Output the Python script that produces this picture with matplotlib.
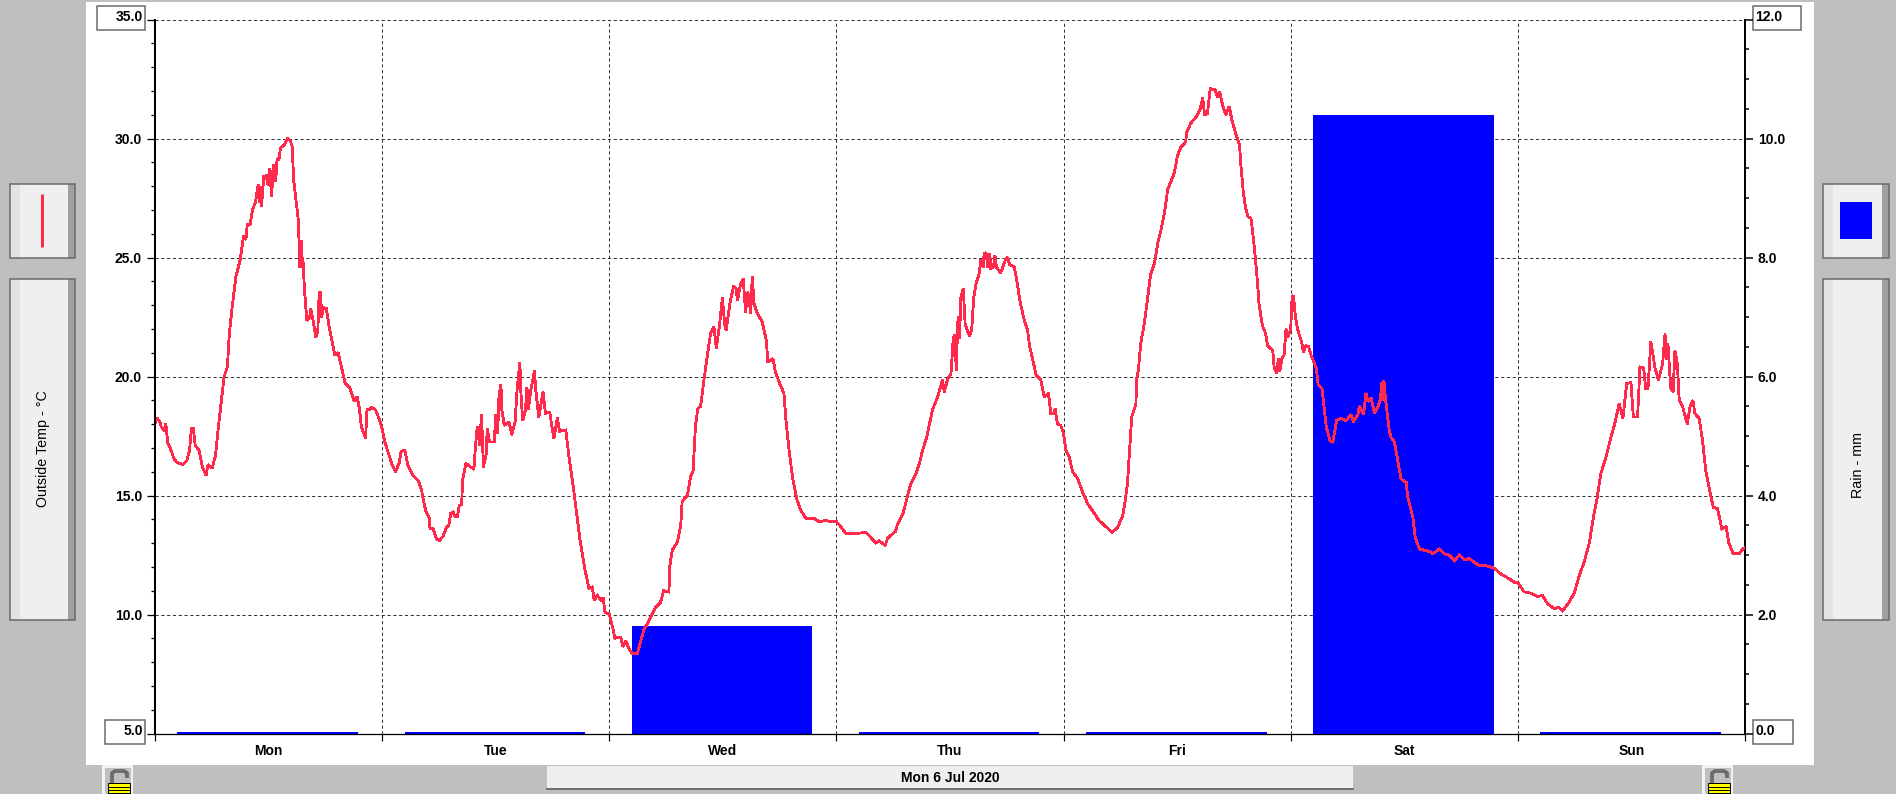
import numpy as np
import matplotlib
matplotlib.use('Agg')
import matplotlib.pyplot as plt
from matplotlib.patches import Rectangle

plt.rcParams['font.family'] = ['Liberation Sans', 'DejaVu Sans']

# Daily values, hours since midnight and degrees C
mon_hours = [0.0, 0.2, 0.5, 0.65, 1.0, 1.15, 1.35, 1.7, 2.0, 2.3, 2.95, 3.35, 3.65, 3.85, 4.05, 4.25, 4.65, 5.0, 5.4, 5.6,
             6.05, 6.4, 6.65, 6.95, 7.3, 7.65, 7.85, 8.15, 8.55, 9.0, 9.35, 9.6, 9.75, 10.05, 10.3, 10.6, 10.9, 11.0, 11.15, 11.25,
             11.5, 11.8, 11.85, 12.15, 12.3, 12.55, 12.75, 12.9, 13.1, 13.25, 13.7, 14.0, 14.3, 14.5, 14.65, 14.9, 15.15, 15.3, 15.45, 15.6,
             15.65, 15.8, 16.05, 16.35, 16.45, 16.7, 17.0, 17.2, 17.35, 17.5, 17.6, 17.8, 18.1, 18.4, 18.75, 19.0, 19.35, 19.7, 20.1, 20.55,
             21.05, 21.35, 21.6, 21.8, 22.25, 22.4, 22.65, 22.85, 23.3, 23.7]
mon_temp = [18.0, 18.26, 18.1, 17.9, 17.7, 18.0, 17.2, 16.9, 16.55, 16.4, 16.3, 16.45, 16.9, 17.8, 17.8, 17.1, 16.9, 16.2, 15.85, 16.3,
            16.15, 16.7, 17.7, 18.75, 20.0, 20.4, 21.8, 22.9, 24.2, 24.9, 25.9, 25.75, 26.4, 26.4, 27.0, 27.3, 28.05, 27.3, 28.0, 27.15,
            28.4, 28.45, 28.05, 28.75, 27.55, 28.9, 28.2, 29.15, 29.1, 29.6, 29.75, 30.0, 29.9, 29.65, 28.25, 27.4, 26.55, 24.6, 25.7, 24.6,
            24.8, 23.6, 22.35, 22.5, 22.85, 22.35, 21.65, 21.9, 23.55, 23.55, 22.5, 22.9, 22.85, 22.1, 21.4, 20.9, 21.0, 20.4, 19.7, 19.55,
            18.95, 19.15, 18.65, 17.9, 17.4, 18.6, 18.6, 18.7, 18.6, 18.2]

tue_hours = [0.0, 0.25, 0.6, 1.05, 1.4, 1.8, 2.0, 2.4, 2.7, 3.25, 3.85, 4.18, 4.35, 4.65, 5.0, 5.05, 5.4, 5.7, 6.05, 6.45,
             6.8, 7.05, 7.25, 7.5, 7.7, 7.95, 8.15, 8.4, 8.5, 8.85, 9.7, 9.85, 10.05, 10.3, 10.5, 10.7, 11.0, 11.1, 11.35, 11.85,
             12.0, 12.2, 12.35, 12.55, 12.65, 12.9, 13.4, 13.7, 14.05, 14.25, 14.55, 14.65, 14.85, 15.15, 15.3, 15.45, 15.7, 16.1, 16.2, 16.55,
             17.0, 17.25, 17.7, 18.15, 18.5, 18.75, 19.4, 19.75, 20.15, 20.5, 20.95, 21.45, 21.85, 22.2, 22.4, 22.75, 23.1, 23.35, 23.55]
tue_temp = [17.8, 17.3, 16.85, 16.3, 16.0, 16.35, 16.85, 16.9, 16.3, 15.85, 15.6, 15.2, 14.8, 14.3, 14.05, 13.6, 13.6, 13.2, 13.1, 13.3,
            13.65, 13.75, 14.25, 14.3, 14.1, 14.1, 14.6, 14.6, 15.65, 16.35, 16.1, 17.0, 17.9, 17.1, 18.4, 16.2, 16.75, 17.8, 17.25, 17.25,
            18.4, 17.6, 19.2, 19.65, 18.6, 17.95, 18.1, 17.55, 18.1, 19.4, 20.6, 19.4, 18.15, 18.6, 19.55, 18.6, 19.4, 20.25, 19.55, 18.3,
            19.35, 18.45, 18.5, 17.4, 18.25, 17.7, 17.75, 16.6, 15.5, 14.4, 13.0, 11.85, 11.1, 11.15, 10.6, 10.8, 10.6, 10.7, 10.1]

wed_hours = [0.0, 0.3, 0.6, 1.2, 1.45, 1.75, 2.1, 2.45, 2.95, 3.3, 3.65, 4.2, 4.9, 5.4, 5.75, 6.3, 6.4, 6.65, 7.2, 7.55,
             7.7, 8.25, 8.6, 8.85, 9.1, 9.35, 9.65, 10.0, 10.35, 10.7, 11.05, 11.3, 11.6, 11.95, 12.2, 12.35, 12.65, 12.8, 13.15, 13.4,
             13.55, 13.85, 14.15, 14.4, 14.65, 14.95, 15.1, 15.3, 15.65, 16.15, 16.6, 16.75, 17.3, 17.55, 18.0, 18.45, 18.7, 19.0, 19.35, 19.8,
             20.2, 20.75, 21.6, 22.15, 22.85, 23.55]
wed_temp = [10.0, 9.55, 9.0, 9.05, 8.65, 8.9, 8.55, 8.35, 8.35, 8.85, 9.35, 9.75, 10.3, 10.5, 11.0, 10.95, 12.05, 12.7, 13.05, 13.75,
            14.75, 15.0, 15.8, 16.0, 17.9, 18.65, 18.75, 19.85, 20.85, 21.8, 22.1, 21.2, 22.0, 23.3, 22.15, 21.95, 22.8, 23.2, 23.8, 23.7,
            23.2, 23.85, 24.1, 22.7, 23.55, 22.65, 24.2, 23.05, 22.65, 22.3, 21.5, 20.6, 20.75, 20.2, 19.7, 19.3, 18.0, 16.9, 15.8, 14.85,
            14.4, 14.05, 14.05, 13.9, 13.95, 13.9]

thu_hours = [0.0, 0.45, 1.0, 2.05, 3.1, 3.6, 4.15, 4.5, 5.15, 5.4, 6.25, 6.45, 7.0, 7.4, 7.85, 8.4, 8.8, 9.1, 9.55, 9.8,
             10.15, 10.7, 11.2, 11.4, 11.75, 12.1, 12.35, 12.55, 12.65, 12.85, 13.0, 13.15, 13.4, 13.6, 14.05, 14.3, 14.5, 14.75, 15.1, 15.25,
             15.5, 15.6, 15.8, 16.0, 16.2, 16.3, 16.6, 16.75, 16.9, 17.35, 17.85, 18.1, 18.3, 18.8, 19.05, 19.4, 19.85, 20.2, 20.4, 20.75,
             21.1, 21.6, 21.95, 22.4, 22.65, 22.95, 23.1, 23.35, 23.7]
thu_temp = [13.9, 13.7, 13.4, 13.4, 13.45, 13.25, 13.0, 13.1, 12.9, 13.2, 13.5, 13.8, 14.2, 14.8, 15.5, 15.9, 16.4, 16.9, 17.45, 17.95,
            18.6, 19.15, 19.85, 19.35, 19.9, 20.1, 21.65, 21.75, 20.25, 22.5, 21.6, 23.3, 23.7, 22.2, 21.7, 22.0, 23.3, 23.9, 24.35, 24.9,
            24.6, 25.15, 25.2, 24.6, 25.15, 24.55, 24.6, 25.1, 24.6, 24.35, 24.9, 25.0, 24.7, 24.6, 24.05, 23.15, 22.35, 21.95, 21.3, 20.7,
            20.05, 19.85, 19.15, 19.3, 18.45, 18.45, 18.65, 18.0, 17.95]

fri_hours = [0.0, 0.25, 0.6, 0.95, 1.5, 2.0, 2.55, 3.25, 3.75, 4.45, 5.1, 5.7, 6.25, 6.5, 6.75, 7.2, 7.65, 7.7, 7.9, 8.15,
             8.5, 8.85, 9.2, 9.6, 9.95, 10.3, 10.65, 11.0, 11.35, 11.7, 12.05, 12.4, 12.9, 13.0, 13.45, 14.0, 14.4, 14.7, 14.9, 15.2,
             15.5, 16.0, 16.25, 16.5, 16.8, 17.15, 17.5, 17.8, 18.2, 18.6, 18.75, 19.0, 19.25, 19.5, 19.8, 20.0, 20.25, 20.5, 20.65, 21.0,
             21.35, 21.55, 22.1, 22.25, 22.5, 22.7, 22.85, 23.05, 23.3, 23.5, 23.7]
fri_temp = [17.6, 16.9, 16.6, 16.0, 15.7, 15.15, 14.65, 14.25, 13.95, 13.7, 13.45, 13.65, 14.15, 14.75, 15.5, 18.3, 18.85, 19.85, 20.25, 21.4,
            22.15, 23.2, 24.3, 24.75, 25.6, 26.15, 26.85, 27.85, 28.2, 28.55, 29.3, 29.65, 29.85, 30.25, 30.65, 30.9, 31.2, 31.7, 31.0, 31.05,
            32.1, 32.05, 31.75, 31.95, 31.4, 31.0, 31.35, 30.75, 30.2, 29.7, 28.8, 27.7, 27.05, 26.7, 26.65, 26.0, 25.05, 23.9, 23.05, 22.15,
            21.8, 21.3, 21.1, 20.4, 20.15, 20.75, 20.2, 20.75, 20.9, 22.0, 21.65]

sat_hours = [0.0, 0.15, 0.3, 0.5, 0.75, 1.15, 1.35, 1.6, 1.9, 2.15, 2.7, 2.9, 3.3, 3.55, 3.75, 4.15, 4.45, 4.85, 5.3, 5.85,
             6.4, 6.6, 7.1, 7.25, 7.7, 7.95, 8.15, 8.5, 8.85, 9.25, 9.5, 9.6, 9.7, 9.85, 10.0, 10.2, 10.4, 10.6, 10.95, 11.3,
             11.65, 12.2, 12.35, 12.9, 13.15, 13.6, 14.65, 15.0, 15.7, 16.25, 16.75, 17.3, 17.8, 18.35, 18.85, 19.95, 20.65, 21.5, 22.2, 23.1, 23.65]
sat_temp = [22.0, 23.4, 23.35, 22.5, 21.95, 21.45, 21.0, 21.3, 21.25, 20.9, 20.35, 19.65, 19.5, 18.6, 17.9, 17.3, 17.25, 18.15, 18.25, 18.15,
            18.4, 18.1, 18.4, 18.75, 18.4, 19.3, 18.95, 19.1, 18.45, 18.75, 19.1, 19.75, 19.0, 19.85, 19.1, 18.45, 17.75, 17.45, 17.25, 16.5,
            15.7, 15.55, 14.95, 14.1, 13.25, 12.75, 12.65, 12.55, 12.75, 12.55, 12.5, 12.25, 12.5, 12.3, 12.35, 12.05, 12.05, 11.95, 11.7, 11.5, 11.35]

sun_hours = [0.0, 0.65, 1.35, 2.05, 2.6, 3.15, 3.85, 4.35, 4.7, 5.4, 5.95, 6.5, 7.0, 7.55, 7.9, 8.4, 8.75, 9.3, 9.8, 10.2,
             10.7, 11.1, 11.5, 11.95, 12.2, 12.65, 12.9, 13.3, 13.5, 13.75, 14.05, 14.3, 14.5, 14.85, 15.3, 15.55, 15.7, 15.85, 16.15, 16.4,
             16.6, 16.85, 17.05, 17.4, 17.9, 18.2, 18.5, 18.7, 19.15, 19.5, 19.85, 20.4, 20.65, 21.1, 21.55, 22.0, 22.3, 22.75, 23.4, 23.75, 24.0]
sun_temp = [11.35, 10.95, 10.9, 10.75, 10.8, 10.45, 10.25, 10.3, 10.15, 10.5, 10.9, 11.65, 12.2, 13.0, 13.9, 14.95, 15.9, 16.6, 17.4, 17.95,
            18.85, 18.25, 19.7, 19.75, 18.3, 18.3, 20.4, 20.35, 19.5, 19.5, 21.45, 20.85, 20.35, 19.85, 20.55, 21.8, 20.7, 21.4, 19.5, 19.35,
            21.1, 20.55, 19.0, 18.75, 18.0, 18.75, 19.0, 18.45, 18.25, 17.35, 16.05, 14.95, 14.5, 14.45, 13.6, 13.7, 13.0, 12.55, 12.55, 12.75, 12.8]

days = ['Mon', 'Tue', 'Wed', 'Thu', 'Fri', 'Sat', 'Sun']
rain_mm = [0, 0, 1.8, 0, 0, 10.4, 0]
temp_ticks = [10.0, 15.0, 20.0, 25.0, 30.0]
rain_ticks = [2.0, 4.0, 6.0, 8.0, 10.0]
date_label = 'Mon 6 Jul 2020'

day_hours = [mon_hours, tue_hours, wed_hours, thu_hours, fri_hours, sat_hours, sun_hours]
day_temp = [mon_temp, tue_temp, wed_temp, thu_temp, fri_temp, sat_temp, sun_temp]

time_days = np.concatenate([i + np.array(h) / 24 for i, h in enumerate(day_hours)])
temp_all = np.concatenate(day_temp)

W, H = 1896, 794
RED = '#ff2a4b'
BLUE = '#0000ff'
GREY = '#bfbfbf'
EDGE = '#686868'
px = 0.72  # one pixel in points at dpi 100

fig = plt.figure(figsize=(W / 100, H / 100), dpi=100, facecolor=GREY)

# window furniture, in pixel coordinates
chrome = fig.add_axes([0, 0, 1, 1], zorder=0)
chrome.set_xlim(0, W)
chrome.set_ylim(H, 0)
chrome.axis('off')


def box(x0, y0, x1, y1, **kw):
    chrome.add_patch(Rectangle((x0, y0), x1 - x0, y1 - y0, **kw))


def side_panel(x0, y0, x1, y1):
    box(x0, y0, x1, y1, fc='#efefef', ec='none')
    box(x0, y0, x0 + 10, y1, fc='#e3e3e3', ec='none')
    box(x1 - 7, y0, x1, y1, fc='#a0a0a0', ec='none')
    box(x0, y0, x1, y1, fc='none', ec=EDGE, lw=1.5 * px)


def lock(x0):
    box(x0, 765, x0 + 31, 800, fc='#f2f2f2', ec='none')
    box(x0 + 3, 768, x0 + 29, 800, fc=GREY, ec='none')
    chrome.plot([x0 + 10, x0 + 10, x0 + 13, x0 + 22, x0 + 25, x0 + 25],
                [783, 773, 771, 771, 773, 778], color='#444444', lw=3.2 * px, solid_capstyle='butt')
    chrome.plot([x0 + 10, x0 + 10, x0 + 13, x0 + 22, x0 + 25, x0 + 25],
                [783, 773, 771, 771, 773, 778], color='#808080', lw=1.4 * px, solid_capstyle='butt')
    box(x0 + 6, 783, x0 + 28, 800, fc='#ffff00', ec='black', lw=1 * px)
    for y in [787, 790, 793]:
        chrome.plot([x0 + 6, x0 + 28], [y, y], color='black', lw=1 * px)


box(86, 2, 1814, 765, fc='white', ec='none')
side_panel(10, 183.5, 75.5, 258)
side_panel(10, 278.5, 75.5, 620)
side_panel(1823.5, 183.5, 1889.5, 258)
side_panel(1823.5, 278.5, 1889.5, 620)
chrome.plot([42, 42], [194, 247], color=RED, lw=3 * px, solid_capstyle='butt')
box(1840, 202, 1872, 239, fc=BLUE, ec='none')
chrome.text(43.5, 449, 'Outside Temp - °C', rotation=90, ha='center', va='center', fontsize=10.3, color='black')
chrome.text(1858, 465, 'Rain - mm', rotation=90, ha='center', va='center', fontsize=10.3, color='black')

box(547, 766, 1353, 789, fc='#efefef', ec='none')
chrome.plot([547, 1353], [788.5, 788.5], color='#707070', lw=2 * px)
chrome.text(950, 777.5, date_label, ha='center', va='center', fontsize=10, fontweight='bold', color='black')
lock(102)
lock(1702)

for b in [(97.5, 6, 145.5, 29.5), (105, 720, 145.5, 743.5), (1753, 6, 1801.5, 29.5), (1753, 720, 1793.5, 743.5)]:
    box(b[0], b[1], b[2], b[3], fc='white', ec=EDGE, lw=1.5 * px)
chrome.text(143, 17, '35.0', ha='right', va='center', fontsize=10, fontweight='bold')
chrome.text(143, 731, '5.0', ha='right', va='center', fontsize=10, fontweight='bold')
chrome.text(1755.5, 17, '12.0', ha='left', va='center', fontsize=10, fontweight='bold')
chrome.text(1755.5, 731, '0.0', ha='left', va='center', fontsize=10, fontweight='bold')

# plot area
rect = [155 / W, 1 - 733.5 / H, (1745 - 155) / W, (733.5 - 19.5) / H]

ax_rain = fig.add_axes(rect, zorder=1)
ax_rain.patch.set_alpha(0)
# dry days still show as a thin line above the axis
ax_rain.bar(np.arange(7) + 0.4965, np.maximum(rain_mm, 0.03), width=0.795, color=BLUE, linewidth=0, zorder=3)
ax_rain.set_xlim(0, 7)
ax_rain.set_ylim(0, 12)
ax_rain.yaxis.tick_right()
ax_rain.set_yticks(rain_ticks + [0.0, 12.0])
ax_rain.set_yticklabels(['%.1f' % v for v in rain_ticks] + ['', ''], fontweight='bold', fontsize=10)
ax_rain.set_yticks(np.arange(0, 12.01, 0.5), minor=True)
ax_rain.set_xticks(np.arange(8))
ax_rain.set_xticklabels([])
ax_rain.tick_params(axis='y', which='major', length=8 * px, width=1.5 * px, pad=3.4)
ax_rain.tick_params(axis='y', which='minor', length=4 * px, width=1.5 * px)
ax_rain.tick_params(axis='x', which='major', length=0)
ax_rain.set_axisbelow(True)
ax_rain.grid(True, which='major', color='#333333', lw=1.0 * px, ls=(0, (3.2, 2.6)))
for s in ['top', 'left', 'bottom']:
    ax_rain.spines[s].set_visible(False)
ax_rain.spines['right'].set_linewidth(2 * px)

ax_temp = fig.add_axes(rect, zorder=2)
ax_temp.patch.set_alpha(0)
ax_temp.plot(time_days, temp_all, color=RED, lw=1.8 * px, antialiased=False, solid_joinstyle='miter')
ax_temp.set_xlim(0, 7)
ax_temp.set_ylim(5, 35)
ax_temp.set_yticks(temp_ticks + [5.0, 35.0])
ax_temp.set_yticklabels(['%.1f' % v for v in temp_ticks] + ['', ''], fontweight='bold', fontsize=10)
ax_temp.set_yticks(np.arange(5, 35.01, 1), minor=True)
ax_temp.set_xticks(np.arange(8))
ax_temp.set_xticklabels([])
ax_temp.set_xticks(np.arange(7) + 0.5, minor=True)
ax_temp.set_xticklabels(days, minor=True, fontweight='bold', fontsize=10)
ax_temp.tick_params(axis='y', which='major', length=8 * px, width=1.3 * px, pad=3.6)
ax_temp.tick_params(axis='y', which='minor', length=4 * px, width=1.3 * px)
ax_temp.tick_params(axis='x', which='major', length=7 * px, width=1.2 * px)
ax_temp.tick_params(axis='x', which='minor', length=0, pad=7.8)
for s in ['top', 'right']:
    ax_temp.spines[s].set_visible(False)
ax_temp.spines['left'].set_linewidth(2 * px)
ax_temp.spines['bottom'].set_linewidth(1.3 * px)

fig.savefig('out.png', dpi=100, facecolor=fig.get_facecolor())
